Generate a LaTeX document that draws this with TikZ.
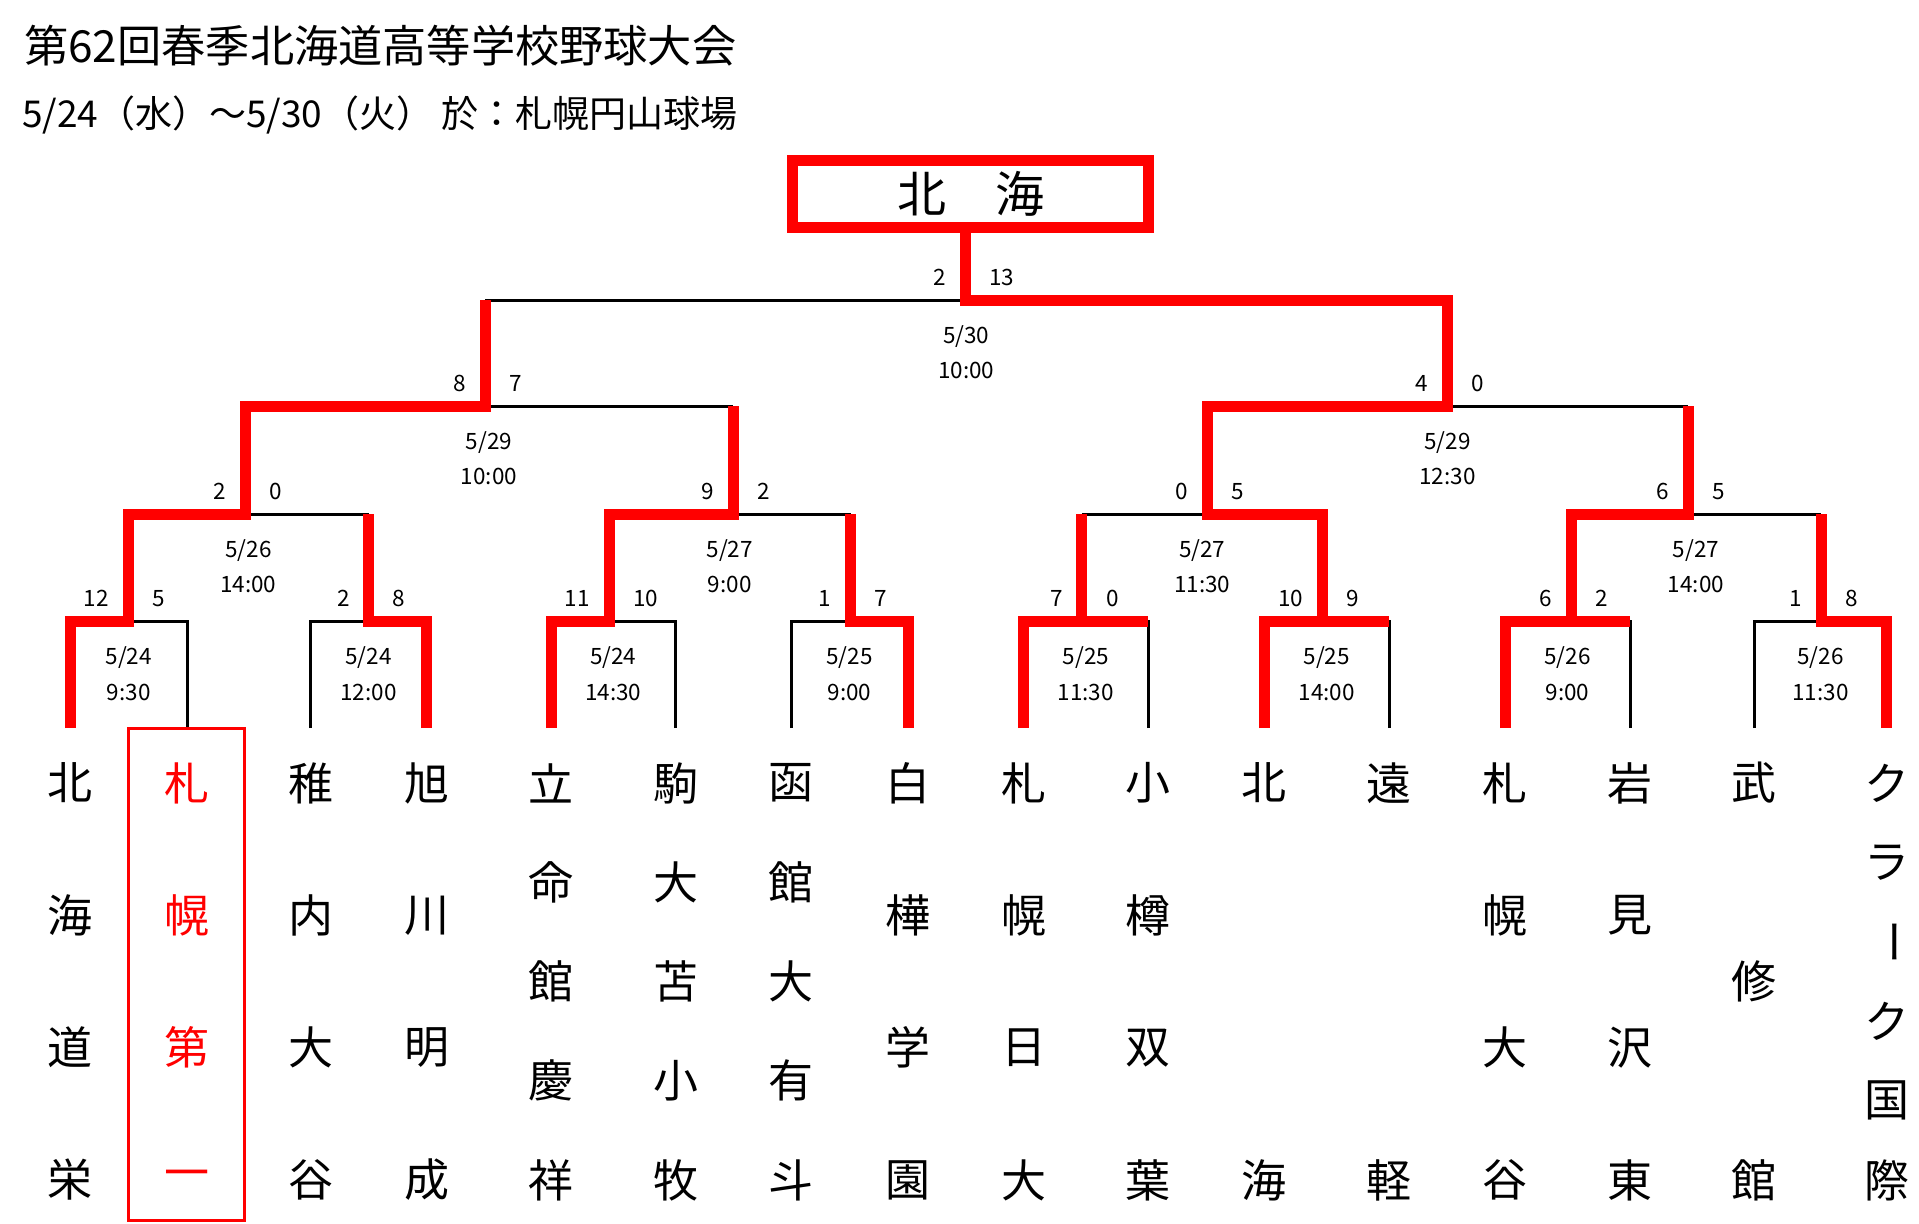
\documentclass[tikz,border=0pt]{standalone}
\usepackage{fontspec}
\usepackage{graphicx}
\setmainfont{Noto Sans CJK JP}
\usetikzlibrary{calc}
\tikzset{
  won/.style = {draw=red, line width=11bp},
  lost/.style = {draw=black, line width=3bp},
  score/.style = {inner sep=0pt, font=\fontsize{22.5bp}{27bp}\selectfont},
  when/.style = {score, anchor=base},
  school/.style = {inner sep=0pt, font=\fontsize{45bp}{54bp}\selectfont},
  heading/.style = {inner sep=0pt, anchor=west},
  champion/.style = {
    draw=red, line width=11bp, inner sep=0pt,
    minimum width=356bp, minimum height=67bp,
    font=\fontsize{49bp}{58bp}\selectfont
  }
}

\begin{document}
\begin{tikzpicture}[x=1bp, y=-1bp]
  \path[use as bounding box, fill=white] (0,0) rectangle (1919,1223);
  \node[heading, font=\fontsize{44.2bp}{52bp}\selectfont] (title) at (24,45.5) {第62回春季北海道高等学校野球大会};
  \node[heading, font=\fontsize{37bp}{42bp}\selectfont] (period) at (22,114.5) {5/24（水）～5/30（火） 於：札幌円山球場};
  \node[champion] (champ) at (970.5,194) {北　海};

  % bracket points
  \foreach \x [count=\i] in {70.4,187,310.5,426.7,551,675.5,791,908,1023.7,1148,1264.3,1389,1505,1630.2,1754.2,1886.8}
    \coordinate (t\i) at (\x,728);
  \foreach \x [count=\i] in {128,368.7,609,850.5,1081.8,1322.5,1571,1821}
    \coordinate (m\i) at (\x,621.5);
  \foreach \x [count=\i] in {245,733,1207,1688}
    \coordinate (q\i) at (\x,514);
  \coordinate (s1) at (485,406);
  \coordinate (s2) at (1447.5,406);
  \coordinate (f) at (965,300);

  % losing sides
  \foreach \a/\b in {t2/m1,t3/m2,t6/m3,t7/m4,t10/m5,t12/m6,t14/m7,t15/m8}
    \draw[lost] (\a) |- (\b);
  \foreach \a/\b in {m2/q1,m4/q2,m5/q3,m8/q4,q2/s1,q4/s2,s1/f}
    \draw[lost] (\a |- \b) -- (\b);

  % winning sides
  \draw[won] (t1) |- (m1) |- (q1) |- (s1) -- (s1 |- f);
  \draw[won] (t4) |- (m2) -- (m2 |- q1);
  \draw[won] (t5) |- (m3) |- (q2) -- (q2 |- s1);
  \draw[won] (t8) |- (m4) -- (m4 |- q2);
  \draw[won] (t9) |- (m5) -- (m5 |- q3);
  \draw[won] (t11) |- (m6) |- (q3) |- (s2) |- (f) -- (f |- champ.south);
  \draw[won] (t13) |- (m7) |- (q4) -- (q4 |- s2);
  \draw[won] (t16) |- (m8) -- (m8 |- q4);
  \foreach \a/\b in {m5/t10,m6/t12,m7/t14}
    \draw[won] (\a) -- (\b |- \a);

  % scores
  \foreach \m/\a/\b in {m1/12/5,m2/2/8,m3/11/10,m4/1/7,m5/7/0,m6/10/9,m7/6/2,m8/1/8,
                        q1/2/0,q2/9/2,q3/0/5,q4/6/5,s1/8/7,s2/4/0,f/2/13} {
    \node[score, anchor=base east] (\m-a) at ([xshift=-19bp, yshift=15bp]\m) {\a};
    \node[score, anchor=base west] (\m-b) at ([xshift=24bp, yshift=15bp]\m) {\b};
  }

  % dates
  \foreach \m/\l/\r/\d/\h in {m1/t1/t2/24/9:30,m2/t3/t4/24/12:00,m3/t5/t6/24/14:30,m4/t7/t8/25/9:00,
                              m5/t9/t10/25/11:30,m6/t11/t12/25/14:00,m7/t13/t14/26/9:00,m8/t15/t16/26/11:30,
                              q1/m1/m2/26/14:00,q2/m3/m4/27/9:00,q3/m5/m6/27/11:30,q4/m7/m8/27/14:00,
                              s1/q1/q2/29/10:00,s2/q3/q4/29/12:30,f/s1/s2/30/10:00}
    \path let \p1 = ($(\l)!.5!(\r)$), \p2 = (\m) in
      node[when] (\m-d) at ([yshift=-43bp]\x1,\y2) {5/\d}
      node[when] (\m-h) at ([yshift=-78.5bp]\x1,\y2) {\h};

  % schools
  \foreach \n/\names/\col [count=\i] in {4/{北,海,道,栄}/black,4/{札,幌,第,一}/red,4/{稚,内,大,谷}/black,
      4/{旭,川,明,成}/black,5/{立,命,館,慶,祥}/black,5/{駒,大,苫,小,牧}/black,5/{函,館,大,有,斗}/black,
      4/{白,樺,学,園}/black,4/{札,幌,日,大}/black,4/{小,樽,双,葉}/black,2/{北,海}/black,2/{遠,軽}/black,
      4/{札,幌,大,谷}/black,4/{岩,見,沢,東}/black,3/{武,修,館}/black,6/{ク,ラ,\rotatebox{-90}{ー},ク,国,際}/black}
    \foreach \c [count=\j from 0] in \names
      \path (t\i) ++(0,{55+\j*397/(\n-1)}) node[school, text=\col] (n\i-\j) {\c};
  \draw[red, line width=3bp] (128.6,728) rectangle (244.3,1220);
\end{tikzpicture}
\end{document}
